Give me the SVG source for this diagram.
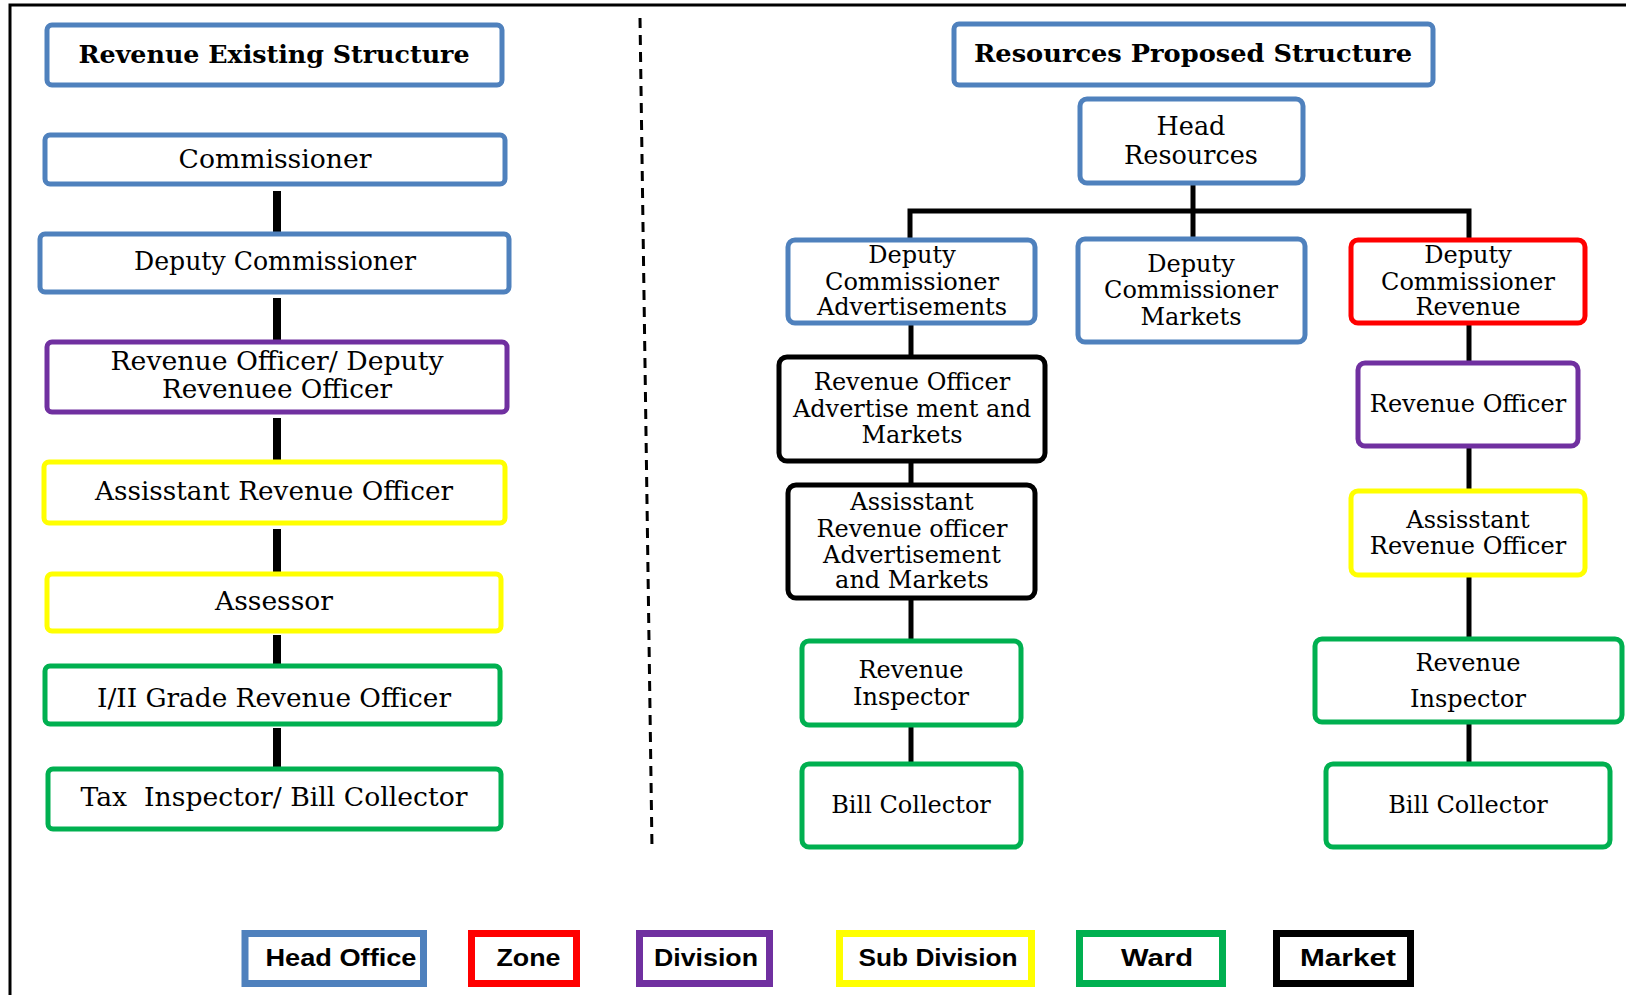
<svg xmlns="http://www.w3.org/2000/svg" width="1626" height="995" viewBox="0 0 1626 995">
<style>
.n{fill:#fff;stroke-width:5}
.b{stroke:#4F81BD}.r{stroke:#FF0000}.p{stroke:#7030A0}.y{stroke:#FFFF00}.g{stroke:#00B050}.k{stroke:#000}
text{font-family:"DejaVu Serif","Liberation Serif",serif;fill:#000;text-anchor:middle}
.t{font-size:25.5px}
.s{font-size:24px}
.h{font-size:24px;font-weight:bold}
.lg{fill:#fff;stroke-width:7}
.lt{font-family:"Liberation Sans",Arial,sans-serif;font-weight:bold;font-size:23px}
</style>
<rect width="1626" height="995" fill="#fff"/>
<g id="frame" fill="none" stroke="#000" stroke-width="3">
<path d="M10,995 V5 H1626"/>
</g>
<g id="divider"><line x1="640" y1="18" x2="652" y2="848" stroke="#000" stroke-width="3" stroke-dasharray="10,7"/></g>
<g id="connectors" stroke="#000" fill="none">
<g stroke-width="8">
<line x1="277" y1="191" x2="277" y2="233"/>
<line x1="277" y1="298" x2="277" y2="341"/>
<line x1="277" y1="418" x2="277" y2="461"/>
<line x1="277" y1="529" x2="277" y2="573"/>
<line x1="277" y1="635" x2="277" y2="665"/>
<line x1="277" y1="728" x2="277" y2="772"/>
</g>
<g stroke-width="5">
<line x1="1193" y1="184" x2="1193" y2="238"/>
<path d="M910,239 V211 H1469 V239"/>
<line x1="911" y1="324" x2="911" y2="356"/>
<line x1="911" y1="462" x2="911" y2="484"/>
<line x1="911" y1="599" x2="911" y2="640"/>
<line x1="911" y1="726" x2="911" y2="763"/>
<line x1="1469" y1="324" x2="1469" y2="362"/>
<line x1="1469" y1="447" x2="1469" y2="490"/>
<line x1="1469" y1="576" x2="1469" y2="638"/>
<line x1="1469" y1="723" x2="1469" y2="763"/>
</g>
</g>
<g id="title-existing"><rect class="n b" x="47" y="25" width="455" height="60" rx="5"/><text class="h" x="274" y="63" textLength="391" lengthAdjust="spacingAndGlyphs">Revenue Existing Structure</text></g>
<g id="commissioner"><rect class="n b" x="45" y="135" width="460" height="49" rx="5"/><text class="t" x="275" y="168" textLength="193" lengthAdjust="spacingAndGlyphs">Commissioner</text></g>
<g id="deputy-commissioner"><rect class="n b" x="40" y="234" width="469" height="58" rx="5"/><text class="t" x="275" y="270" textLength="282" lengthAdjust="spacingAndGlyphs">Deputy Commissioner</text></g>
<g id="revenue-officer-left"><rect class="n p" x="47" y="342" width="460" height="70" rx="5"/><text class="t" x="277" y="370" textLength="333" lengthAdjust="spacingAndGlyphs">Revenue Officer/ Deputy</text><text class="t" x="277" y="398" textLength="230" lengthAdjust="spacingAndGlyphs">Revenuee Officer</text></g>
<g id="asst-revenue-officer-left"><rect class="n y" x="44" y="462" width="461" height="61" rx="5"/><text class="t" x="274" y="500" textLength="358" lengthAdjust="spacingAndGlyphs">Assisstant Revenue Officer</text></g>
<g id="assessor"><rect class="n y" x="47" y="574" width="454" height="57" rx="5"/><text class="t" x="274" y="610" textLength="118" lengthAdjust="spacingAndGlyphs">Assessor</text></g>
<g id="grade-officer"><rect class="n g" x="45" y="666" width="455" height="58" rx="5"/><text class="t" x="274" y="707" textLength="354" lengthAdjust="spacingAndGlyphs">I/II Grade Revenue Officer</text></g>
<g id="tax-inspector"><rect class="n g" x="48" y="769" width="453" height="60" rx="5"/><text class="t" x="274" y="806" textLength="387" lengthAdjust="spacingAndGlyphs">Tax&#160; Inspector/ Bill Collector</text></g>

<g id="title-proposed"><rect class="n b" x="954" y="24" width="479" height="61" rx="5"/><text class="h" x="1193" y="62" textLength="438" lengthAdjust="spacingAndGlyphs">Resources Proposed Structure</text></g>
<g id="head-resources"><rect class="n b" x="1080" y="99" width="223" height="84" rx="7"/><text class="t" x="1191" y="135">Head</text><text class="t" x="1191" y="164">Resources</text></g>
<g id="dc-advertisements"><rect class="n b" x="788" y="240" width="247" height="83" rx="7"/><text class="s" x="912" y="263">Deputy</text><text class="s" x="912" y="290">Commissioner</text><text class="s" x="912" y="315">Advertisements</text></g>
<g id="dc-markets"><rect class="n b" x="1078" y="239" width="227" height="103" rx="7"/><text class="s" x="1191" y="272">Deputy</text><text class="s" x="1191" y="298">Commissioner</text><text class="s" x="1191" y="325">Markets</text></g>
<g id="dc-revenue"><rect class="n r" x="1351" y="240" width="234" height="83" rx="7"/><text class="s" x="1468" y="263">Deputy</text><text class="s" x="1468" y="290">Commissioner</text><text class="s" x="1468" y="315">Revenue</text></g>
<g id="ro-advert-markets"><rect class="n k" x="779" y="357" width="266" height="104" rx="8"/><text class="s" x="912" y="390">Revenue Officer</text><text class="s" x="912" y="417">Advertise ment and</text><text class="s" x="912" y="443">Markets</text></g>
<g id="revenue-officer-right"><rect class="n p" x="1358" y="363" width="220" height="83" rx="7"/><text class="s" x="1468" y="412">Revenue Officer</text></g>
<g id="aro-advert-markets"><rect class="n k" x="788" y="485" width="247" height="113" rx="8"/><text class="s" x="912" y="510">Assisstant</text><text class="s" x="912" y="537">Revenue officer</text><text class="s" x="912" y="563">Advertisement</text><text class="s" x="912" y="588">and Markets</text></g>
<g id="aro-right"><rect class="n y" x="1351" y="491" width="234" height="84" rx="7"/><text class="s" x="1468" y="528">Assisstant</text><text class="s" x="1468" y="554">Revenue Officer</text></g>
<g id="inspector-left"><rect class="n g" x="802" y="641" width="219" height="84" rx="7"/><text class="s" x="911" y="678">Revenue</text><text class="s" x="911" y="705">Inspector</text></g>
<g id="inspector-right"><rect class="n g" x="1315" y="639" width="307" height="83" rx="7"/><text class="s" x="1468" y="671">Revenue</text><text class="s" x="1468" y="707">Inspector</text></g>
<g id="bill-left"><rect class="n g" x="802" y="764" width="219" height="83" rx="7"/><text class="s" x="911" y="813">Bill Collector</text></g>
<g id="bill-right"><rect class="n g" x="1326" y="764" width="284" height="83" rx="7"/><text class="s" x="1468" y="813">Bill Collector</text></g>

<g id="legend-head-office"><rect class="lg b" x="245" y="933.5" width="178.5" height="50"/><text class="lt" x="341" y="966" textLength="151" lengthAdjust="spacingAndGlyphs">Head Office</text></g>
<g id="legend-zone"><rect class="lg r" x="471.5" y="933.5" width="105" height="50"/><text class="lt" x="528.5" y="966" textLength="64" lengthAdjust="spacingAndGlyphs">Zone</text></g>
<g id="legend-division"><rect class="lg p" x="639.5" y="933.5" width="130" height="50"/><text class="lt" x="706" y="966" textLength="104" lengthAdjust="spacingAndGlyphs">Division</text></g>
<g id="legend-sub-division"><rect class="lg y" x="839.5" y="933.5" width="192" height="50"/><text class="lt" x="938" y="966" textLength="159" lengthAdjust="spacingAndGlyphs">Sub Division</text></g>
<g id="legend-ward"><rect class="lg g" x="1079.5" y="933.5" width="143" height="50"/><text class="lt" x="1157" y="966" textLength="72" lengthAdjust="spacingAndGlyphs">Ward</text></g>
<g id="legend-market"><rect class="lg k" x="1276.5" y="933.5" width="134" height="50"/><text class="lt" x="1348" y="966" textLength="96" lengthAdjust="spacingAndGlyphs">Market</text></g>
</svg>
